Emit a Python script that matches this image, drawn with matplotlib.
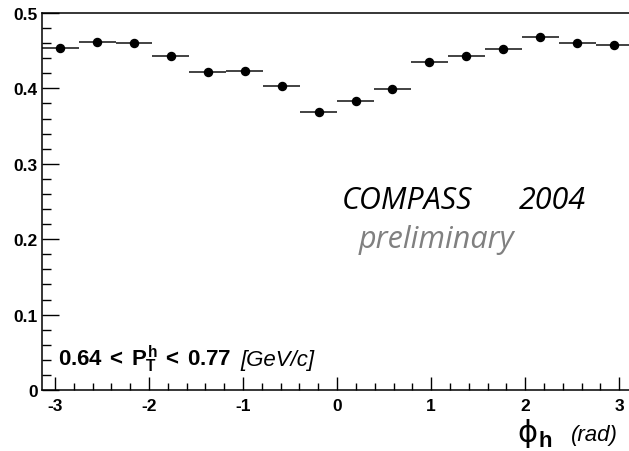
import numpy as np
import matplotlib
matplotlib.use('Agg')
import matplotlib.pyplot as plt
from matplotlib.ticker import MultipleLocator

# значения по бинам phi_h (16 бинов от -pi до pi)
n_bins = 16
phi_lo = -np.pi
phi_hi = np.pi
values = [0.454, 0.462, 0.460, 0.443, 0.422, 0.423, 0.403, 0.369,
          0.383, 0.399, 0.435, 0.443, 0.452, 0.468, 0.460, 0.458]
y_errors = [0.002] * n_bins

x_ticks = [-3, -2, -1, 0, 1, 2, 3]
y_ticks = [0, 0.1, 0.2, 0.3, 0.4, 0.5]
y_tick_labels = ['0', '0.1', '0.2', '0.3', '0.4', '0.5']

W, H = 629, 452


def fx(px):
    return px / W


def fy(py):
    return 1 - py / H


def main():
    plt.rcParams['mathtext.fontset'] = 'custom'
    plt.rcParams['mathtext.rm'] = 'Liberation Sans:bold'
    plt.rcParams['mathtext.bf'] = 'Liberation Sans:bold'
    plt.rcParams['mathtext.it'] = 'Liberation Sans:bold'

    fig = plt.figure(figsize=(W / 100, H / 100), dpi=100)
    # рамка чуть шире картинки, правый край обрезан как в оригинале
    left, right, top, bottom = 41.7, 632.5, 14, 391
    ax = fig.add_axes([fx(left), fy(bottom), (right - left) / W, (bottom - top) / H])

    edges = np.linspace(phi_lo, phi_hi, n_bins + 1)
    centers = 0.5 * (edges[:-1] + edges[1:])
    half = 0.5 * (edges[1] - edges[0])

    ax.errorbar(centers, values, xerr=half, yerr=y_errors, fmt='o', color='black',
                ecolor='#222222', elinewidth=1.2, capsize=0, markersize=5.8)

    ax.set_xlim(phi_lo, phi_hi)
    ax.set_ylim(0, 0.5)
    ax.set_xticks(x_ticks)
    ax.set_xticklabels([str(t) for t in x_ticks])
    ax.set_yticks(y_ticks)
    ax.set_yticklabels(y_tick_labels)
    ax.xaxis.set_minor_locator(MultipleLocator(0.2))
    ax.yaxis.set_minor_locator(MultipleLocator(0.02))

    ax.tick_params(axis='y', which='major', direction='in', length=12, width=1, pad=3)
    ax.tick_params(axis='y', which='minor', direction='in', length=6.5, width=1)
    ax.tick_params(axis='x', which='major', direction='in', length=9.5, width=1, pad=6)
    ax.tick_params(axis='x', which='minor', direction='in', length=4.8, width=1)
    for lab in ax.get_xticklabels() + ax.get_yticklabels():
        lab.set_fontfamily('Liberation Sans')
        lab.set_fontweight('bold')
        lab.set_fontsize(12.5)

    for s in ax.spines.values():
        s.set_linewidth(1.1)

    # подписи
    fig.text(fx(342), fy(209), 'COMPASS', family='Open Sans', style='italic',
             fontsize=22, color='black', ha='left', va='baseline')
    fig.text(fx(586), fy(209), '2004', family='Open Sans', style='italic',
             fontsize=22, color='black', ha='right', va='baseline')
    fig.text(fx(359), fy(248), 'preliminary', family='Open Sans', style='italic',
             fontsize=22, color='#808080', ha='left', va='baseline')

    fig.text(fx(58), fy(366), r'$0.64\:<\:P_{T}^{h}\:<\:0.77$', fontsize=16,
             ha='left', va='baseline')
    fig.text(fx(240), fy(366), '[GeV/c]', family='Liberation Sans', style='italic',
             fontsize=16, ha='left', va='baseline')

    fig.text(fx(517), fy(442), 'ϕ', family='DejaVu Sans', fontsize=22,
             ha='left', va='baseline')
    fig.text(fx(538), fy(447.5), 'h', family='Liberation Sans', fontweight='bold',
             fontsize=16, ha='left', va='baseline')
    fig.text(fx(571), fy(441), '(rad)', family='Liberation Sans', style='italic',
             fontsize=16, ha='left', va='baseline')

    fig.savefig('out.png', dpi=100)


if __name__ == "__main__":
    main()
